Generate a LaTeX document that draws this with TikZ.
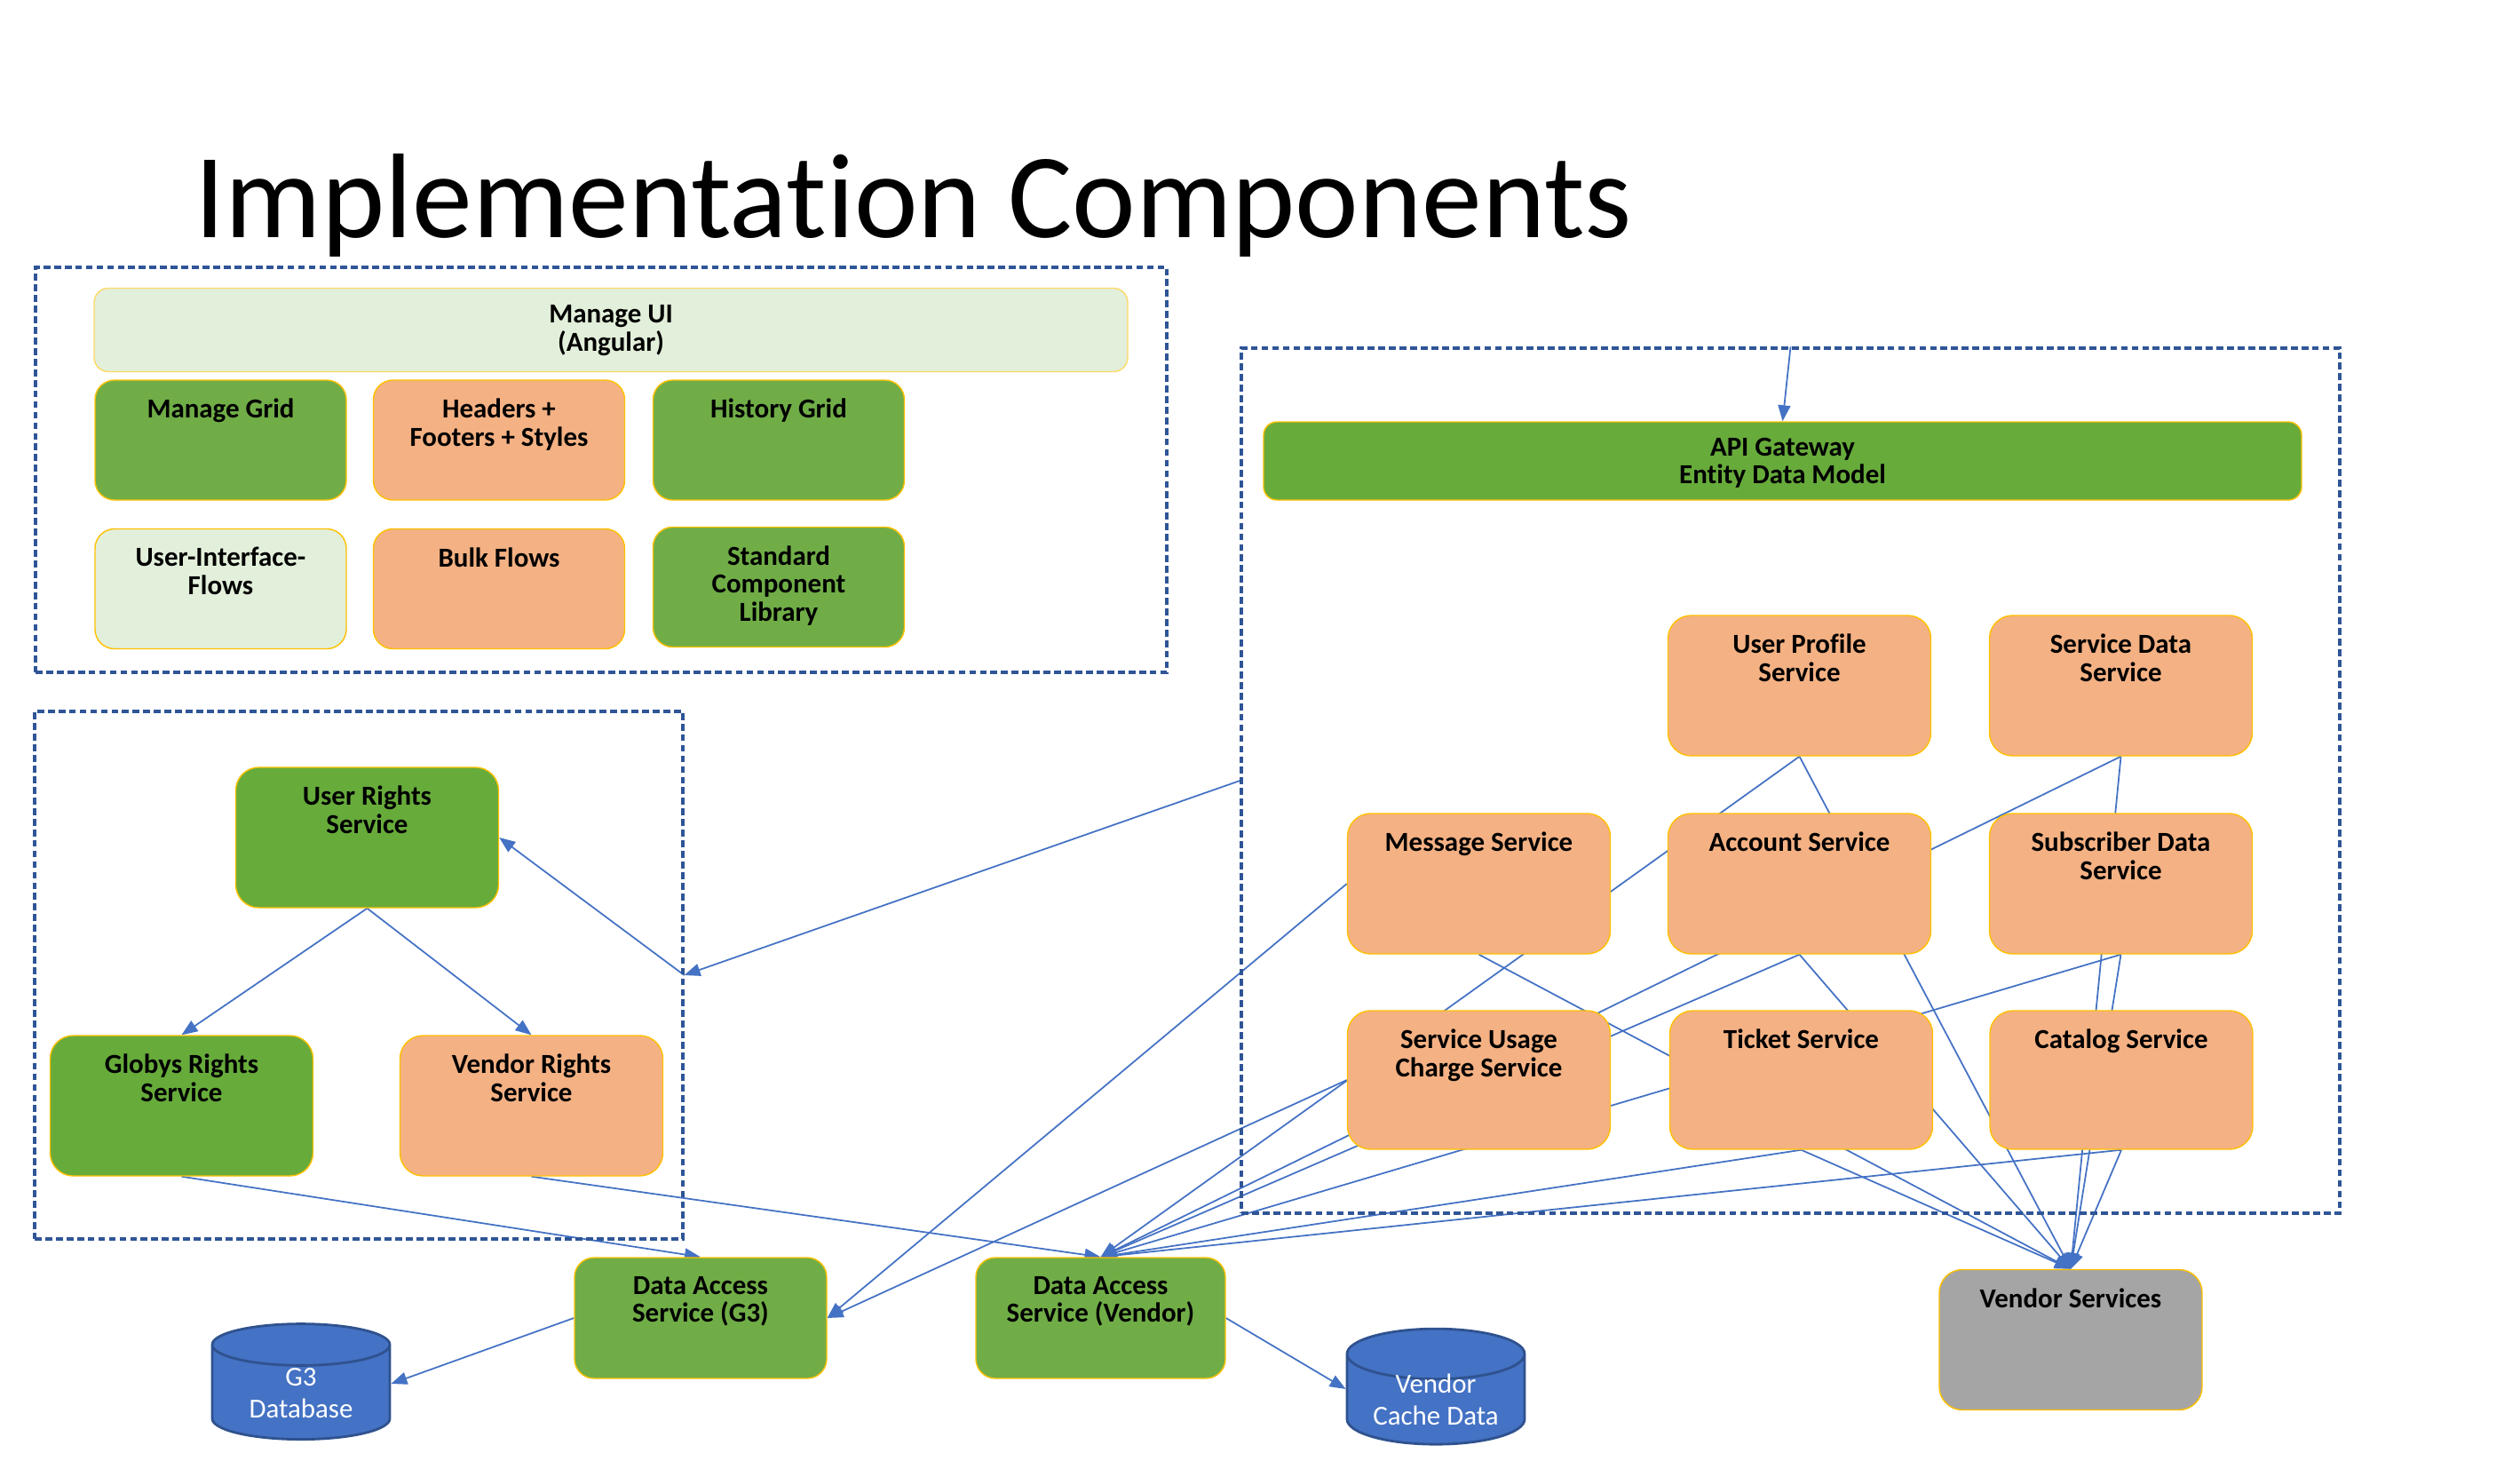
\documentclass[tikz,border=0pt]{standalone}
\usepackage{fontspec}
\setmainfont{Carlito}[Ligatures=NoCommon]
\usepackage{tikz}
\usetikzlibrary{arrows.meta, positioning, backgrounds, shapes.geometric}

\definecolor{leafgreen}{HTML}{70AD47}
\definecolor{apigreen}{HTML}{67AB3B}
\definecolor{palegreen}{HTML}{E2EFDA}
\definecolor{peach}{HTML}{F4B183}
\definecolor{stonegray}{HTML}{A5A5A5}
\definecolor{dbblue}{HTML}{4472C4}
\definecolor{dbedge}{HTML}{2F528F}
\definecolor{linkblue}{HTML}{4472C4}
\definecolor{grpblue}{HTML}{2F5597}
\definecolor{goldedge}{HTML}{FFC000}
\newcommand{\dbtext}[1]{\raisebox{-0.11cm}[0pt][0pt]{\begin{tabular}{@{}c@{}}#1\end{tabular}}}

\begin{document}
\begin{tikzpicture}[x=1cm, y=1cm,
  box/.style={draw=goldedge, line width=0.4pt, rounded corners=0.26cm, minimum width=2.96cm, minimum height=1.58cm, inner sep=0pt},
  uibox/.style={box, rounded corners=0.22cm, minimum width=2.83cm, minimum height=1.35cm},
  boxtxt/.style={anchor=north, yshift=-0.21cm, inner sep=0pt, align=center, font=\bfseries\fontsize{8.8}{9}\selectfont},
  grp/.style={draw=grpblue, line width=0.9pt, dash pattern=on 2.2pt off 1.2pt, inner sep=0pt},
  link/.style={draw=linkblue, line width=0.5pt},
  tip/.style={link, -{Triangle[length=0.18cm, width=0.14cm]}},
  db/.style={cylinder, shape border rotate=90, aspect=0.4, draw=dbedge, line width=0.8pt, fill=dbblue, text=white, font=\fontsize{8.8}{10.5}\selectfont, minimum width=2cm, minimum height=1.3cm, inner sep=0pt}
]
  \useasboundingbox (0,0) rectangle (28.38,16.44);
  % ================================================================
  % title and groups
  % ================================================================
  \node[anchor=base west, inner sep=0pt, font=\fontsize{38.6}{40}\selectfont] (title) at (2.19,13.76) {Implementation Components};
  \node[grp, minimum width=12.74cm, minimum height=4.56cm] (uiGrp) at (6.77,11.15) {};
  \node[grp, minimum width=7.30cm, minimum height=5.94cm] (rightsGrp) at (4.04,5.46) {};
  \node[grp, minimum width=12.37cm, minimum height=9.74cm] (apiGrp) at (20.165,7.65) {};
  % ================================================================
  % UI components
  % ================================================================
  \node[box, fill=palegreen, draw=goldedge!60, rounded corners=0.16cm, minimum width=11.64cm, minimum height=0.94cm,
        label={[boxtxt, yshift=0.02cm]north:{Manage UI\\(Angular)}}] (manageUI) at (6.88,12.725) {};
  \node[uibox, fill=leafgreen, label={[boxtxt]north:Manage Grid}] (manageGrid) at (2.485,11.485) {};
  \node[uibox, fill=peach, label={[boxtxt]north:{Headers +\\Footers + Styles}}] (headers) at (5.62,11.485) {};
  \node[uibox, fill=leafgreen, label={[boxtxt]north:History Grid}] (historyGrid) at (8.77,11.485) {};
  \node[uibox, fill=palegreen, label={[boxtxt]north:{User-Interface-\\Flows}}] (uiFlows) at (2.485,9.81) {};
  \node[uibox, fill=peach, label={[boxtxt]north:Bulk Flows}] (bulkFlows) at (5.62,9.81) {};
  \node[uibox, fill=leafgreen, label={[boxtxt]north:{Standard\\Component\\Library}}] (stdLib) at (8.77,9.83) {};
  % ================================================================
  % rights services
  % ================================================================
  \node[box, fill=apigreen, label={[boxtxt]north:{User Rights\\Service}}] (userRights) at (4.135,7.01) {};
  \node[box, fill=apigreen, label={[boxtxt]north:{Globys Rights\\Service}}] (globys) at (2.045,3.99) {};
  \node[box, fill=peach, label={[boxtxt]north:{Vendor Rights\\Service}}] (vendorRights) at (5.985,3.99) {};
  % ================================================================
  % API gateway and services
  % ================================================================
  \node[box, fill=apigreen, rounded corners=0.15cm, minimum width=11.69cm, minimum height=0.88cm,
        label={[boxtxt, yshift=0.03cm]north:{API Gateway\\Entity Data Model}}] (gateway) at (20.075,11.25) {};
  \node[box, fill=peach, label={[boxtxt]north:{User Profile\\Service}}] (userProfile) at (20.265,8.72) {};
  \node[box, fill=peach, label={[boxtxt]north:{Service Data\\Service}}] (serviceData) at (23.885,8.72) {};
  \node[box, fill=peach, label={[boxtxt]north:Message Service}] (message) at (16.655,6.49) {};
  \node[box, fill=peach, label={[boxtxt]north:Account Service}] (account) at (20.265,6.49) {};
  \node[box, fill=peach, label={[boxtxt]north:{Subscriber Data\\Service}}] (subscriber) at (23.885,6.49) {};
  \node[box, fill=peach, minimum height=1.56cm, label={[boxtxt]north:{Service Usage\\Charge Service}}] (usage) at (16.655,4.28) {};
  \node[box, fill=peach, minimum height=1.56cm, label={[boxtxt]north:Ticket Service}] (ticket) at (20.285,4.28) {};
  \node[box, fill=peach, minimum height=1.56cm, label={[boxtxt]north:Catalog Service}] (catalog) at (23.89,4.28) {};
  % ================================================================
  % data access and stores
  % ================================================================
  \node[box, fill=stonegray, label={[boxtxt]north:Vendor Services}] (vendorSvc) at (23.32,1.355) {};
  \node[uibox, fill=leafgreen, minimum width=2.84cm, minimum height=1.36cm, label={[boxtxt]north:{Data Access\\Service (G3)}}] (daG3) at (7.89,1.60) {};
  \node[uibox, fill=leafgreen, minimum width=2.81cm, minimum height=1.36cm, label={[boxtxt]north:{Data Access\\Service (Vendor)}}] (daVendor) at (12.395,1.60) {};
  \node[db] (g3db) at (3.39,0.76) {\dbtext{G3\\Database}};
  \node[db] (cacheDb) at (16.17,0.68) {\dbtext{Vendor\\Cache Data}};
  % connectors ----------------------------------------------------
  \begin{scope}[on background layer]
    \draw[tip] (apiGrp.north) -- (gateway.north);
    \draw[tip] (apiGrp.west) -- (rightsGrp.east);
    \draw[tip] (rightsGrp.east) -- (userRights.east);
    \draw[tip] (userRights.south) -- (globys.north);
    \draw[tip] (userRights.south) -- (vendorRights.north);
    \draw[tip] (globys.south) -- (daG3.north);
    \draw[tip] (vendorRights.south) -- (daVendor.north);
    \draw[tip] (daG3.west) -- ([yshift=0.1cm]g3db.east);
    \draw[tip] (daVendor.east) -- ([yshift=0.12cm]cacheDb.west);
    \draw[tip] (message.west) -- (daG3.east);
    \draw[tip] (usage.west) -- (daG3.east);
    \foreach \src in {userProfile, serviceData, account, subscriber, ticket, catalog} {
      \draw[tip] (\src.south) -- (daVendor.north);
    }
    \foreach \src in {userProfile, serviceData, message, account, subscriber, ticket, catalog} {
      \draw[tip] (\src.south) -- (vendorSvc.north);
    }
  \end{scope}
\end{tikzpicture}
\end{document}
